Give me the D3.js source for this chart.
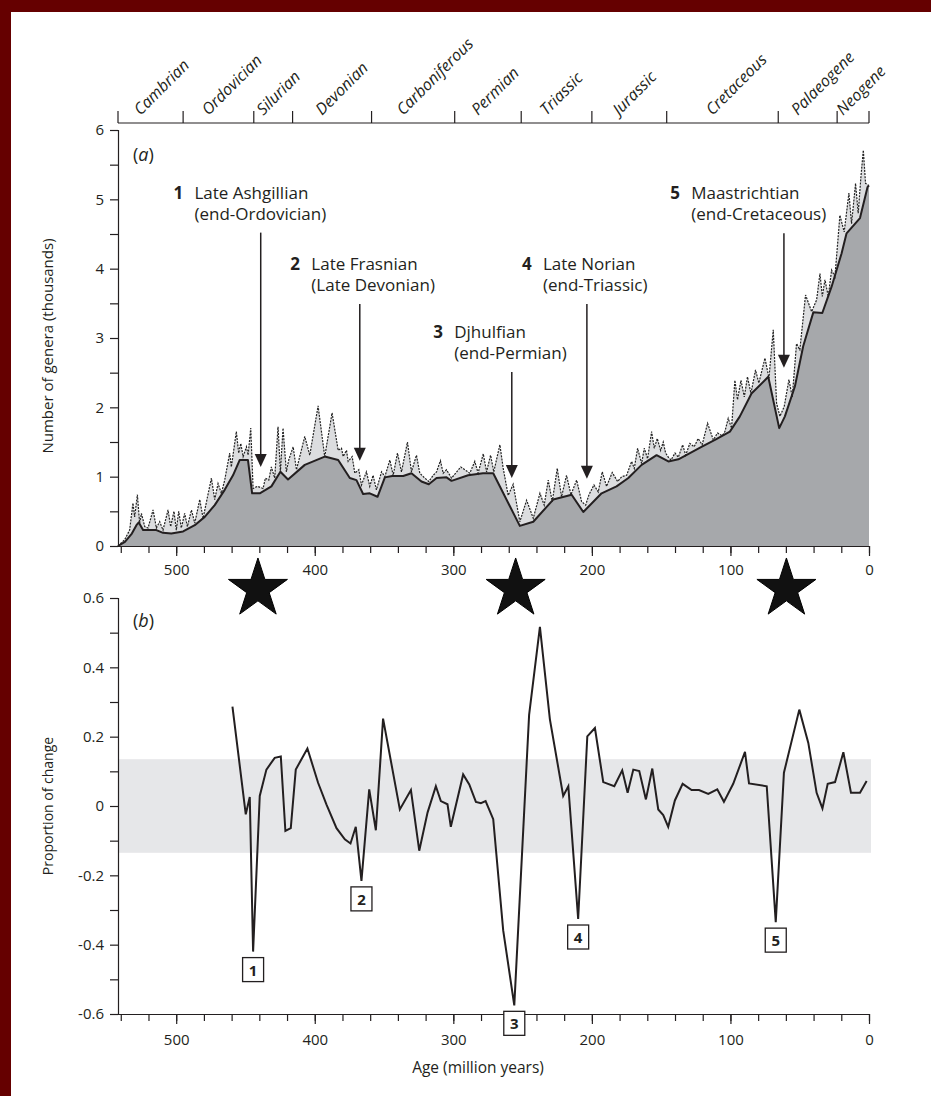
<!DOCTYPE html>
<html>
<head>
<meta charset="utf-8">
<script src="https://cdn.jsdelivr.net/npm/d3@7"></script>
<style>
  body { margin: 0; background: #fff; }
  svg { display: block; font-family: "Open Sans", sans-serif; }
  .axis text { font-family: "Open Sans", sans-serif; font-size: 15px; fill: #231f20; }
  .axis path, .axis line { stroke: #231f20; stroke-width: 1.2; }
</style>
</head>
<body>
<svg id="chart" width="931" height="1096"></svg>
<script>
// geological periods along the top bar (boundaries in Ma)
const periodNames = ["Cambrian", "Ordovician", "Silurian", "Devonian", "Carboniferous",
  "Permian", "Triassic", "Jurassic", "Cretaceous", "Palaeogene", "Neogene"];
const periodBounds = [542, 495, 444, 416, 359, 299, 251, 200, 146, 65.5, 23, 0];

// (a) stage-level diversity (dotted, spiky)
const stageAge = [542, 537.2, 533.6, 531.2, 530, 528, 526.4, 525.1, 522.7, 520.3, 516.7, 514.3, 511.9,
  509.5, 505.9, 504, 501.6, 499.9, 498.2, 496.3, 493.9, 491.9, 489, 486.6, 483, 480.6, 474.6, 472.2,
  469.8, 467.4, 465, 461.4, 460.2, 456.6, 454.9, 453.4, 451.7, 449.3, 448.1, 446.2, 444.5, 441.4,
  437.3, 435.6, 433.2, 431.3, 428.9, 426.5, 424.8, 422.9, 420.5, 418.8, 415.6, 413.2, 407.2, 403.6,
  397.6, 392.8, 387.5, 383.1, 380.7, 379.5, 377.1, 375.9, 373, 371.1, 368.2, 366.3, 362.7, 360.3,
  357.9, 355.5, 351.8, 349.4, 345.8, 343.4, 340.3, 337.4, 333.1, 330.2, 326.6, 324.2, 320.6, 317.7,
  314.5, 312.1, 309.3, 307.3, 304.9, 301.3, 294.6, 288.1, 284.5, 282.1, 278.4, 276, 273.1, 270.8,
  266.4, 264, 260.4, 256.8, 252, 247.1, 242.3, 237.5, 234.4, 231.5, 228.6, 225, 221.9, 218.3, 215.1,
  211, 207.4, 204.5, 202.1, 198.5, 195.4, 192.5, 189.4, 185.3, 181.4, 178.5, 174.9, 171.3, 169.4,
  167, 164.1, 162.2, 159.8, 156.9, 155, 152.8, 150.4, 148.5, 146.8, 144.8, 142.9, 140, 137.6, 134.5,
  132.3, 129.3, 126.2, 123.3, 120.4, 116.5, 112.4, 109.3, 105.9, 104, 101.6, 99.2, 96.8, 94.9, 92.4,
  90, 87.7, 85.2, 81.9, 79.5, 75.1, 72.2, 69.1, 66.7, 64.3, 61.2, 57.8, 55.4, 52.3, 49.9, 45.8, 41.4,
  37.8, 35.4, 33.7, 31.8, 29.4, 27, 24.6, 21, 17.9, 14.5, 12.6, 9.7, 7.8, 5.8, 4.1, 2.5, 0];
const stageGenera = [0, 0.09, 0.23, 0.62, 0.42, 0.74, 0.33, 0.47, 0.28, 0.26, 0.52, 0.26, 0.35,
  0.23, 0.52, 0.28, 0.5, 0.23, 0.5, 0.26, 0.47, 0.28, 0.52, 0.33, 0.67, 0.4, 0.98, 0.67,
  0.9, 0.76, 0.95, 1.34, 1.14, 1.65, 1.34, 1.48, 1.29, 1.43, 1.31, 1.7, 0.83, 0.86,
  0.83, 0.98, 0.95, 1.14, 0.98, 1.72, 1.07, 1.7, 1.07, 1.24, 1.43, 1.1, 1.58, 1.31,
  2.02, 1.29, 1.92, 1.38, 1.41, 1.29, 1.38, 1.22, 1.29, 1.05, 1.1, 0.88, 1.07, 0.86,
  1.02, 0.81, 1.07, 1.0, 1.24, 1.02, 1.34, 1.07, 1.5, 1.07, 1.31, 1.05, 0.98, 0.93,
  1.02, 1.07, 1.23, 1.05, 1.1, 0.98, 1.14, 1.05, 1.22, 1.05, 1.33, 1.07, 1.31, 1.07,
  1.46, 1.12, 0.73, 0.89, 0.35, 0.66, 0.4, 0.76, 0.59, 0.95, 0.64, 1.12, 0.71, 1.02, 0.74,
  0.95, 0.64, 0.59, 0.74, 0.88, 0.78, 1.07, 0.86, 1.06, 0.93, 1.0, 1.02, 1.22, 1.12,
  1.41, 1.19, 1.41, 1.26, 1.65, 1.41, 1.55, 1.38, 1.5, 1.34, 1.28, 1.24, 1.34, 1.28, 1.46,
  1.31, 1.48, 1.43, 1.55, 1.46, 1.77, 1.53, 1.63, 1.59, 1.65, 1.84, 1.7, 2.39, 2.11, 2.39,
  2.15, 2.44, 2.2, 2.54, 2.35, 2.71, 2.42, 3.12, 2.06, 1.87, 2.01, 2.4, 2.15, 2.92, 2.83, 3.62, 3.38,
  3.55, 3.93, 3.6, 3.84, 3.6, 3.98, 3.88, 4.77, 4.53, 5.09, 4.65, 5.23, 4.8, 5.33, 5.71, 5.23, 5.2];

// (a) range-through diversity (solid)
const rangeAge = [542, 537, 532, 528.7, 527, 523.9, 514.3, 509.5, 503.5, 495, 486.6, 479.4, 472.2,
  465, 459, 454.2, 448.2, 445.2, 439.7, 431.3, 424.8, 419.3, 407.2, 392.8, 383.1, 374.7, 369.9,
  365.1, 360.3, 354.7, 349.4, 344.1, 336.2, 330.2, 323, 317.7, 312.1, 304.9, 301.3, 289.3, 278.6,
  271.2, 252, 242.3, 227.9, 214.6, 206.2, 193, 182.2, 173.7, 164.1, 153.3, 144.8, 137.6, 132.9,
  120.9, 111.2, 100.4, 93.2, 84.8, 72.7, 64.8, 60.7, 53.5, 47.5, 40.2, 33.7, 27, 19.8, 16.2, 6.5, 1, 0];
const rangeGenera = [0, 0.06, 0.18, 0.3, 0.34, 0.23, 0.23, 0.19, 0.18, 0.21, 0.3, 0.42, 0.59,
  0.81, 1.02, 1.24, 1.24, 0.76, 0.76, 0.86, 1.07, 0.96, 1.17, 1.29, 1.24, 0.98, 0.95,
  0.75, 0.76, 0.71, 0.99, 1.01, 1.01, 1.05, 0.93, 0.89, 0.98, 0.99, 0.94, 1.02, 1.05,
  1.05, 0.29, 0.35, 0.67, 0.74, 0.49, 0.76, 0.86, 0.98, 1.17, 1.31, 1.22, 1.25, 1.3,
  1.43, 1.53, 1.65, 1.87, 2.2, 2.44, 1.7, 1.87, 2.3, 2.88, 3.37, 3.36, 3.74, 4.22, 4.51, 4.73, 5.18, 5.2];

// (b) proportion of change
const changeAge = [459.4, 449.8, 446.9, 444.5, 439.7, 434.9, 428.9, 424.5, 421.2, 417.3, 413.7,
  405.3, 397.6, 391.6, 384.3, 378.3, 374.2, 370.4, 366.3, 360.7, 355.9, 350.7, 338.6, 330.6, 324.6,
  318.6, 312.6, 309, 304.2, 301.8, 292.9, 288.5, 283.7, 280.1, 276.7, 271.2, 264, 256, 245.3, 237.5,
  230.3, 220.7, 217, 209.9, 203.3, 197.8, 191.8, 183.8, 178.1, 174.2, 170.1, 165.8, 161, 156.4,
  152.1, 148.5, 144.9, 140.1, 134.5, 128, 122.7, 116, 109.5, 104.7, 98, 89.5, 86.6, 73.8, 67.3,
  61.4, 50.3, 43.8, 37.8, 33.6, 29.8, 24.5, 18.5, 13, 6.5, 1.7];
const changeValue = [0.287, -0.024, 0.026, -0.42, 0.029, 0.105, 0.139, 0.143, -0.072, -0.064, 0.105,
  0.166, 0.067, 0.005, -0.064, -0.096, -0.108, -0.06, -0.216, 0.048, -0.07, 0.252, -0.01, 0.046, -0.129,
  -0.019, 0.057, 0.014, 0.005, -0.06, 0.091, 0.062, 0.012, 0.008, 0.014, -0.038, -0.359, -0.575, 0.263, 0.517,
  0.25, 0.029, 0.057, -0.326, 0.201, 0.225, 0.069, 0.057, 0.103, 0.038, 0.105, 0.101, 0.019, 0.108,
  -0.01, -0.026, -0.06, 0.016, 0.064, 0.046, 0.046, 0.035, 0.048, 0.012, 0.064, 0.156, 0.065, 0.057, -0.335,
  0.096, 0.278, 0.182, 0.038, -0.007, 0.064, 0.069, 0.155, 0.038, 0.038, 0.072];
const bandLimit = 0.135;

// the big five
const eventNumbers = ["1", "2", "3", "4", "5"];
const eventNames = ["Late Ashgillian", "Late Frasnian", "Djhulfian", "Late Norian", "Maastrichtian"];
const eventNotes = ["(end-Ordovician)", "(Late Devonian)", "(end-Permian)", "(end-Triassic)", "(end-Cretaceous)"];
const eventAge = [439, 367.5, 257.8, 203.6, 61.4];
const eventLabelAge = [502, 417.6, 314.5, 250.5, 143.5];
const arrowFrom = [4.52, 3.49, 2.51, 3.49, 4.51];
const arrowTo = [1.14, 1.23, 0.98, 0.97, 2.57];
const labelLevel = [5.0, 3.98, 3.0, 3.98, 5.0];
const starAge = [441, 255, 59.6];

const svg = d3.select("#chart");
const ink = "#231f20";

// frame of the scan
svg.append("rect").attr("width", 931).attr("height", 1096).attr("fill", "#fff");
svg.append("rect").attr("width", 931).attr("height", 12).attr("fill", "#650000");
svg.append("rect").attr("width", 11).attr("height", 1096).attr("fill", "#650000");

const x = d3.scaleLinear().domain([542, 0]).range([118, 869]);
const yTop = d3.scaleLinear().domain([0, 6]).range([546, 130]);
const yBot = d3.scaleLinear().domain([-0.6, 0.6]).range([1014, 598]);

const stage = stageAge.map((a, i) => [a, stageGenera[i]]);
const range = rangeAge.map((a, i) => [a, rangeGenera[i]]);
const change = changeAge.map((a, i) => [a, changeValue[i]]);

/* ---------- period bar ---------- */
const bar = svg.append("g");
bar.append("line")
    .attr("x1", x(periodBounds[0])).attr("x2", x(0))
    .attr("y1", 123).attr("y2", 123)
    .attr("stroke", ink).attr("stroke-width", 1.2);
bar.selectAll("line.pb")
    .data(periodBounds)
    .join("line")
    .attr("class", "pb")
    .attr("x1", d => x(d)).attr("x2", d => x(d))
    .attr("y1", 123).attr("y2", 111)
    .attr("stroke", ink).attr("stroke-width", 1.2);
bar.selectAll("text")
    .data(periodNames)
    .join("text")
    .attr("transform", (d, i) => {
        let mid = (x(periodBounds[i]) + x(periodBounds[i + 1])) / 2;
        return `translate(${mid - 10},116) rotate(-45)`;
    })
    .attr("font-size", 16)
    .attr("font-style", "italic")
    .attr("fill", ink)
    .text(d => d);

/* ---------- panel (a) ---------- */
const areaTop = d3.area().x(d => x(d[0])).y0(yTop(0)).y1(d => yTop(d[1]));
const lineTop = d3.line().x(d => x(d[0])).y(d => yTop(d[1]));

svg.append("path").datum(stage).attr("d", areaTop).attr("fill", "#dcdddf");
svg.append("path").datum(range).attr("d", areaTop).attr("fill", "#a6a8ab");
svg.append("path").datum(stage).attr("d", lineTop)
    .attr("fill", "none").attr("stroke", "#222").attr("stroke-width", 1.2)
    .attr("stroke-dasharray", "2,1.2");
svg.append("path").datum(range).attr("d", lineTop)
    .attr("fill", "none").attr("stroke", ink).attr("stroke-width", 2)
    .attr("stroke-linejoin", "round");

svg.append("g").attr("class", "axis")
    .attr("transform", "translate(118,0)")
    .call(d3.axisLeft(yTop).tickValues(d3.range(0, 6.01, 0.5)).tickSize(8).tickPadding(6)
        .tickFormat(d => d % 1 === 0 ? d : ""));

svg.append("g").attr("class", "axis")
    .attr("transform", `translate(0,${yTop(0)})`)
    .call(d3.axisBottom(x).tickValues(d3.range(0, 541, 20)).tickSize(7).tickFormat(""))
    .call(g => g.select(".domain").remove());
svg.append("g").attr("class", "axis")
    .attr("transform", `translate(0,${yTop(0)})`)
    .call(d3.axisBottom(x).tickValues(d3.range(0, 501, 100)).tickSize(10).tickPadding(8).tickSizeOuter(0));

svg.append("text").attr("x", 133).attr("y", 161).attr("font-size", 18).attr("fill", ink)
    .html('(<tspan font-style="italic">a</tspan>)');
svg.append("text")
    .attr("transform", `translate(53,346) rotate(-90)`)
    .attr("text-anchor", "middle").attr("font-size", 15).attr("fill", ink)
    .text("Number of genera (thousands)");

// annotations with arrows
const notes = svg.append("g");
eventNames.forEach((name, i) => {
    let lx = x(eventLabelAge[i]);
    let ly = yTop(labelLevel[i]);
    let t = notes.append("text").attr("font-size", 17).attr("fill", ink);
    t.append("tspan").attr("x", lx).attr("y", ly).attr("font-weight", "bold").text(eventNumbers[i]);
    t.append("tspan").attr("x", lx + 21).attr("y", ly).text(name);
    notes.append("text").attr("font-size", 17).attr("fill", ink)
        .attr("x", lx + 21).attr("y", ly + 21).text(eventNotes[i]);

    let ax = x(eventAge[i]);
    let tip = yTop(arrowTo[i]);
    notes.append("line")
        .attr("x1", ax).attr("x2", ax)
        .attr("y1", yTop(arrowFrom[i])).attr("y2", tip - 10)
        .attr("stroke", ink).attr("stroke-width", 1.5);
    notes.append("path")
        .attr("d", `M${ax - 6},${tip - 13}L${ax + 6},${tip - 13}L${ax},${tip}Z`)
        .attr("fill", ink);
});

/* ---------- stars ---------- */
svg.selectAll("path.star")
    .data(starAge)
    .join("path")
    .attr("class", "star")
    .attr("transform", d => `translate(${x(d)},589)`)
    .attr("d", d3.symbol(d3.symbolStar, 1080))
    .attr("fill", "#111").attr("stroke", "#000").attr("stroke-width", 1);

/* ---------- panel (b) ---------- */
svg.append("rect")
    .attr("x", x(542)).attr("width", x(0) - x(542) + 2)
    .attr("y", yBot(bandLimit)).attr("height", yBot(-bandLimit) - yBot(bandLimit))
    .attr("fill", "#e6e7e9");

svg.append("path").datum(change)
    .attr("d", d3.line().x(d => x(d[0])).y(d => yBot(d[1])))
    .attr("fill", "none").attr("stroke", ink).attr("stroke-width", 2)
    .attr("stroke-linejoin", "miter");

svg.append("g").attr("class", "axis")
    .attr("transform", "translate(118,0)")
    .call(d3.axisLeft(yBot).tickValues(d3.range(-6, 7, 1).map(d => d / 10)).tickSize(8).tickPadding(6)
        .tickFormat(d => {
            let k = Math.round(d * 10);
            if (k % 2 !== 0) return "";
            if (k === 0) return "0";
            return (k < 0 ? "-" : "") + Math.abs(d).toFixed(1);
        }));

svg.append("g").attr("class", "axis")
    .attr("transform", `translate(0,${yBot(-0.6)})`)
    .call(d3.axisBottom(x).tickValues(d3.range(0, 541, 20)).tickSize(7).tickFormat(""))
    .call(g => g.select(".domain").remove());
svg.append("g").attr("class", "axis")
    .attr("transform", `translate(0,${yBot(-0.6)})`)
    .call(d3.axisBottom(x).tickValues(d3.range(0, 501, 100)).tickSize(10).tickPadding(10).tickSizeOuter(0));

svg.append("text").attr("x", 133).attr("y", 627).attr("font-size", 18).attr("fill", ink)
    .html('(<tspan font-style="italic">b</tspan>)');
svg.append("text")
    .attr("transform", `translate(53,${yBot(0)}) rotate(-90)`)
    .attr("text-anchor", "middle").attr("font-size", 14).attr("fill", ink)
    .text("Proportion of change");
svg.append("text")
    .attr("x", 478).attr("y", 1073)
    .attr("text-anchor", "middle").attr("font-size", 15.5).attr("fill", ink)
    .text("Age (million years)");

// numbered boxes under the troughs
const boxes = svg.append("g");
eventNumbers.forEach((n, i) => {
    // lowest point of the curve near the event
    let near = change.filter(d => Math.abs(d[0] - eventAge[i]) < 12);
    let low = d3.least(near, d => d[1]);
    let bx = x(low[0]);
    let by = yBot(low[1]) + 6;
    boxes.append("rect")
        .attr("x", bx - 10.5).attr("y", by).attr("width", 21).attr("height", 24)
        .attr("fill", "#fff").attr("stroke", ink).attr("stroke-width", 1.3);
    boxes.append("text")
        .attr("x", bx).attr("y", by + 18)
        .attr("text-anchor", "middle").attr("font-size", 15).attr("font-weight", "bold")
        .attr("fill", ink).text(n);
});
</script>
</body>
</html>
